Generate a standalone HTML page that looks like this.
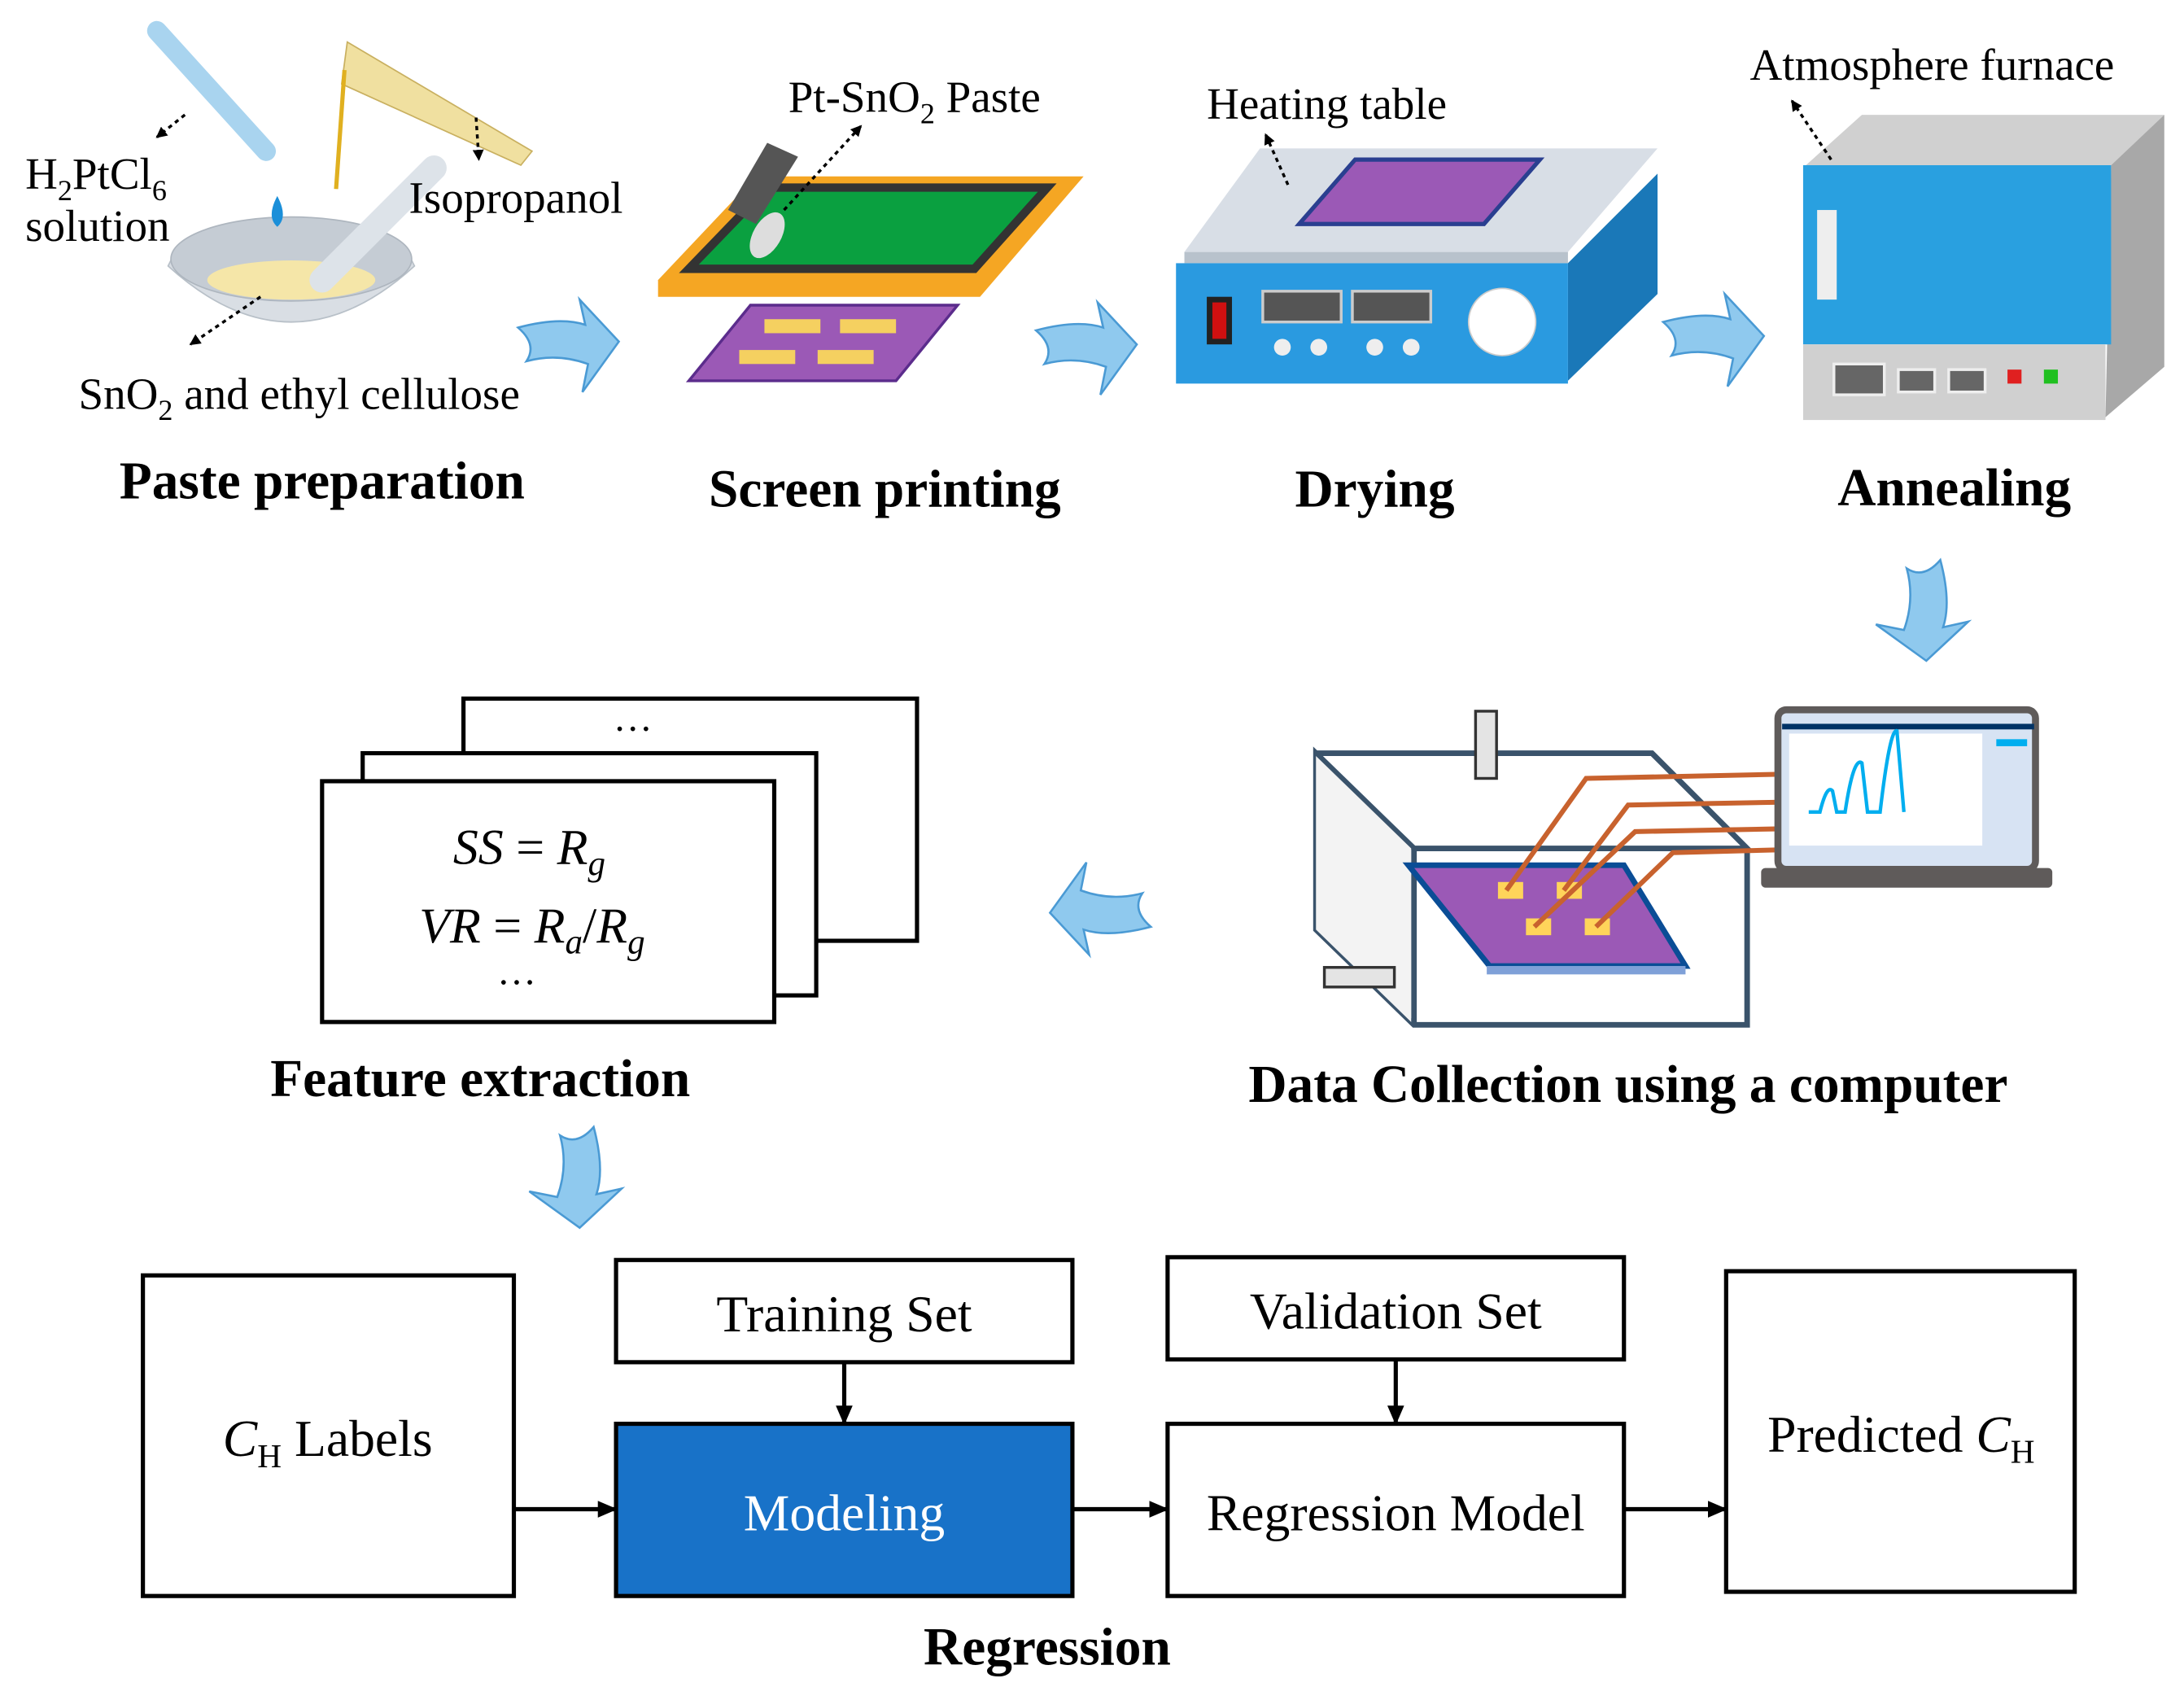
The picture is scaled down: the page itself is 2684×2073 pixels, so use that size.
<!DOCTYPE html>
<html><head><meta charset="utf-8"><style>
html,body{margin:0;padding:0;background:#fff;}
svg{display:block;}
text{font-family:"Liberation Serif",serif;fill:#000;}
.b{font-weight:bold;}
</style></head><body>
<svg width="2684" height="2073" viewBox="0 0 1560 1205" xmlns="http://www.w3.org/2000/svg">
<defs>
<marker id="ah" markerWidth="8" markerHeight="8" refX="7" refY="4" orient="auto" markerUnits="userSpaceOnUse"><path d="M0,0 L8,4 L0,8 z" fill="#000"/></marker>
<marker id="ah2" markerWidth="14" markerHeight="12" refX="13" refY="6" orient="auto" markerUnits="userSpaceOnUse"><path d="M0,0 L14,6 L0,12 z" fill="#000"/></marker>
<g id="barrow"><path d="M0,14 Q30,6 48,12 L44,-6 L72,24 L46,60 L50,40 Q28,32 6,38 Q14,26 0,14z" fill="#8FC9EE" stroke="#4A9AD4" stroke-width="1.5"/></g>
</defs>

<use href="#barrow" x="370" y="220"/>
<use href="#barrow" x="740" y="222"/>
<use href="#barrow" x="1188" y="216"/>
<use href="#barrow" transform="translate(1400,400) rotate(90)"/>
<use href="#barrow" transform="translate(822,676) rotate(180)"/>
<use href="#barrow" transform="translate(438,805) rotate(90)"/>

<path d="M112,22 L190,108" stroke="#A9D4EF" stroke-width="14" stroke-linecap="round"/>
<path d="M120,190 Q208,270 296,190 L290,178 Q208,150 126,178z" fill="#D9DEE4" stroke="#B8C0C8"/>
<ellipse cx="208" cy="185" rx="86" ry="30" fill="#C5CCD4" stroke="#AEB6BF"/>
<ellipse cx="208" cy="200" rx="60" ry="14" fill="#F5E6A8"/>
<path d="M230,200 L310,120" stroke="#DDE3E9" stroke-width="18" stroke-linecap="round"/>
<path d="M198,140 Q190,155 198,162 Q206,155 198,140z" fill="#1B8FD9"/>
<path d="M248,30 L380,108 L372,118 L244,60z" fill="#F0E0A0" stroke="#C9B060"/>
<path d="M246,50 L240,135" stroke="#E0B020" stroke-width="3"/>
<line x1="132" y1="82" x2="112" y2="98" stroke="#000" stroke-dasharray="3,3" stroke-width="2" marker-end="url(#ah)"/>
<line x1="340" y1="84" x2="342" y2="114" stroke="#000" stroke-dasharray="3,3" stroke-width="2" marker-end="url(#ah)"/>
<line x1="186" y1="212" x2="136" y2="246" stroke="#000" stroke-dasharray="3,3" stroke-width="2" marker-end="url(#ah)"/>
<text x="18" y="135" font-size="32">H<tspan font-size="21" dy="8">2</tspan><tspan dy="-8">PtCl</tspan><tspan font-size="21" dy="8">6</tspan></text>
<text x="18" y="172" font-size="32">solution</text>
<text x="292" y="152" font-size="32">Isopropanol</text>
<text x="56" y="292" font-size="32">SnO<tspan font-size="21" dy="8">2</tspan><tspan dy="-8"> and ethyl cellulose</tspan></text>
<text x="230" y="356" font-size="38" class="b" text-anchor="middle">Paste preparation</text>

<path d="M492,272 L536,218 L684,218 L640,272z" fill="#9B59B6" stroke="#5B2C8C" stroke-width="2"/>
<rect x="546" y="228" width="40" height="10" fill="#F5D060"/><rect x="600" y="228" width="40" height="10" fill="#F5D060"/>
<rect x="528" y="250" width="40" height="10" fill="#F5D060"/><rect x="584" y="250" width="40" height="10" fill="#F5D060"/>
<path d="M470,200 L540,126 L774,126 L700,212 L470,212z" fill="#F5A623"/>
<path d="M492,192 L548,134 L748,134 L696,192z" fill="#0AA040" stroke="#333" stroke-width="6"/>
<path d="M520,150 L548,102 L570,112 L540,160z" fill="#555"/>
<ellipse cx="548" cy="168" rx="10" ry="18" fill="#ddd" transform="rotate(30 548 168)"/>
<line x1="560" y1="150" x2="615" y2="90" stroke="#000" stroke-dasharray="3,3" stroke-width="2" marker-end="url(#ah)"/>
<text x="563" y="80" font-size="32">Pt-SnO<tspan font-size="21" dy="8">2</tspan><tspan dy="-8"> Paste</tspan></text>
<text x="632" y="362" font-size="38" class="b" text-anchor="middle">Screen printing</text>

<path d="M846,180 L900,106 L1184,106 L1120,180z" fill="#D8DEE6"/>
<path d="M846,180 L1120,180 L1120,188 L846,188z" fill="#B8C2CC"/>
<path d="M1120,188 L1184,124 L1184,210 L1120,272z" fill="#1A78B8"/>
<rect x="840" y="188" width="280" height="86" fill="#2A9AE0"/>
<path d="M928,160 L968,114 L1100,114 L1060,160z" fill="#9B59B6" stroke="#2A3F90" stroke-width="3"/>
<rect x="862" y="212" width="18" height="34" fill="#222"/><rect x="866" y="216" width="10" height="26" fill="#D01010"/>
<rect x="902" y="208" width="56" height="22" fill="#555" stroke="#ccc" stroke-width="2"/>
<rect x="966" y="208" width="56" height="22" fill="#555" stroke="#ccc" stroke-width="2"/>
<circle cx="916" cy="248" r="6" fill="#eee"/><circle cx="942" cy="248" r="6" fill="#eee"/>
<circle cx="982" cy="248" r="6" fill="#eee"/><circle cx="1008" cy="248" r="6" fill="#eee"/>
<circle cx="1073" cy="230" r="24" fill="#fff" stroke="#ccc"/>
<line x1="920" y1="132" x2="904" y2="96" stroke="#000" stroke-dasharray="3,3" stroke-width="2" marker-end="url(#ah)"/>
<text x="862" y="85" font-size="32">Heating table</text>
<text x="982" y="362" font-size="38" class="b" text-anchor="middle">Drying</text>

<path d="M1290,118 L1330,82 L1546,82 L1508,118z" fill="#D0D0D0"/>
<path d="M1508,118 L1546,82 L1546,262 L1504,298z" fill="#A8A8A8"/>
<rect x="1288" y="118" width="220" height="128" fill="#29A0E0"/>
<rect x="1288" y="246" width="216" height="54" fill="#D0D0D0"/>
<rect x="1298" y="150" width="14" height="64" fill="#eee"/>
<rect x="1310" y="260" width="36" height="22" fill="#666" stroke="#eee" stroke-width="2"/>
<rect x="1356" y="264" width="26" height="16" fill="#666" stroke="#eee" stroke-width="2"/>
<rect x="1392" y="264" width="26" height="16" fill="#666" stroke="#eee" stroke-width="2"/>
<rect x="1434" y="264" width="10" height="10" fill="#E02020"/><rect x="1460" y="264" width="10" height="10" fill="#20C020"/>
<line x1="1308" y1="114" x2="1280" y2="72" stroke="#000" stroke-dasharray="3,3" stroke-width="2" marker-end="url(#ah)"/>
<text x="1250" y="57" font-size="32">Atmosphere furnace</text>
<text x="1396" y="361" font-size="38" class="b" text-anchor="middle">Annealing</text>

<g fill="none" stroke="#3A536B" stroke-width="4">
<path d="M940,538 L1180,538 L1248,606 L1010,606 L940,538 L940,664 L1010,732 L1248,732 L1248,606"/>
<path d="M1010,606 L1010,732"/>
</g>
<path d="M940,540 L1008,606 L1008,730 L940,664z" fill="#F3F3F3"/>
<rect x="1054" y="508" width="15" height="48" fill="#E4E4E4" stroke="#333" stroke-width="2"/>
<rect x="946" y="691" width="50" height="14" fill="#E4E4E4" stroke="#333" stroke-width="2"/>
<path d="M1006,618 L1160,618 L1204,690 L1064,690z" fill="#9B59B6" stroke="#0A4D96" stroke-width="4"/>
<rect x="1062" y="690" width="142" height="6" fill="#7FA0D8"/>
<rect x="1070" y="630" width="18" height="12" fill="#FFD45A"/><rect x="1112" y="630" width="18" height="12" fill="#FFD45A"/>
<rect x="1090" y="656" width="18" height="12" fill="#FFD45A"/><rect x="1132" y="656" width="18" height="12" fill="#FFD45A"/>
<g stroke="#C8622E" stroke-width="3.5" fill="none">
<path d="M1076,636 L1133,556 L1272,553"/>
<path d="M1117,636 L1163,575 L1272,573"/>
<path d="M1096,662 L1168,594 L1272,592"/>
<path d="M1140,662 L1195,609 L1272,607"/>
</g>
<rect x="1270" y="507" width="184" height="114" rx="6" fill="#D7E3F3" stroke="#5F5B5A" stroke-width="5"/>
<rect x="1273" y="517" width="180" height="4" fill="#003366"/>
<rect x="1278" y="524" width="138" height="80" fill="#fff"/>
<rect x="1426" y="528" width="22" height="5" fill="#00AEEF"/>
<path d="M1292,580 L1300,580 Q1305,560 1309,565 L1312,580 L1318,580 Q1324,540 1330,545 L1334,580 L1343,580 Q1350,520 1355,522 L1360,580" stroke="#00AEEF" stroke-width="2.5" fill="none"/>
<rect x="1258" y="620" width="208" height="14" rx="3" fill="#5F5B5A"/>
<text x="1163" y="787" font-size="38" class="b" text-anchor="middle">Data Collection using a computer</text>

<rect x="331" y="499" width="324" height="173" fill="#fff" stroke="#000" stroke-width="3"/>
<rect x="259" y="538" width="324" height="173" fill="#fff" stroke="#000" stroke-width="3"/>
<rect x="230" y="558" width="323" height="172" fill="#fff" stroke="#000" stroke-width="3"/>
<text x="452" y="522" font-size="28" text-anchor="middle">…</text>
<text x="378" y="617" font-size="36" font-style="italic" text-anchor="middle">SS <tspan font-style="normal">=</tspan> R<tspan font-size="25" dy="8">g</tspan></text>
<text x="380" y="673" font-size="36" font-style="italic" text-anchor="middle">VR <tspan font-style="normal">=</tspan> R<tspan font-size="25" dy="8">a</tspan><tspan dy="-8" font-style="normal">/</tspan>R<tspan font-size="25" dy="8">g</tspan></text>
<text x="369" y="703" font-size="28" text-anchor="middle">…</text>
<text x="343" y="783" font-size="38" class="b" text-anchor="middle">Feature extraction</text>

<g stroke="#000" stroke-width="3" fill="#fff">
<rect x="102" y="911" width="265" height="229"/>
<rect x="440" y="900" width="326" height="73"/>
<rect x="440" y="1017" width="326" height="123" fill="#1872C8"/>
<rect x="834" y="898" width="326" height="73"/>
<rect x="834" y="1017" width="326" height="123"/>
<rect x="1233" y="908" width="249" height="229"/>
</g>
<g stroke="#000" stroke-width="3">
<line x1="367" y1="1078" x2="440" y2="1078" marker-end="url(#ah2)"/>
<line x1="766" y1="1078" x2="834" y2="1078" marker-end="url(#ah2)"/>
<line x1="1160" y1="1078" x2="1233" y2="1078" marker-end="url(#ah2)"/>
<line x1="603" y1="973" x2="603" y2="1017" marker-end="url(#ah2)"/>
<line x1="997" y1="971" x2="997" y2="1017" marker-end="url(#ah2)"/>
</g>
<text x="234" y="1040" font-size="37" text-anchor="middle"><tspan font-style="italic">C</tspan><tspan font-size="24" dy="8">H</tspan><tspan dy="-8"> Labels</tspan></text>
<text x="603" y="951" font-size="37" text-anchor="middle">Training Set</text>
<text x="603" y="1093" font-size="37" text-anchor="middle" style="fill:#fff">Modeling</text>
<text x="997" y="949" font-size="37" text-anchor="middle">Validation Set</text>
<text x="997" y="1093" font-size="37" text-anchor="middle">Regression Model</text>
<text x="1358" y="1037" font-size="37" text-anchor="middle">Predicted <tspan font-style="italic">C</tspan><tspan font-size="24" dy="8">H</tspan></text>
<text x="748" y="1189" font-size="38" class="b" text-anchor="middle">Regression</text>
</svg>
</body></html>
